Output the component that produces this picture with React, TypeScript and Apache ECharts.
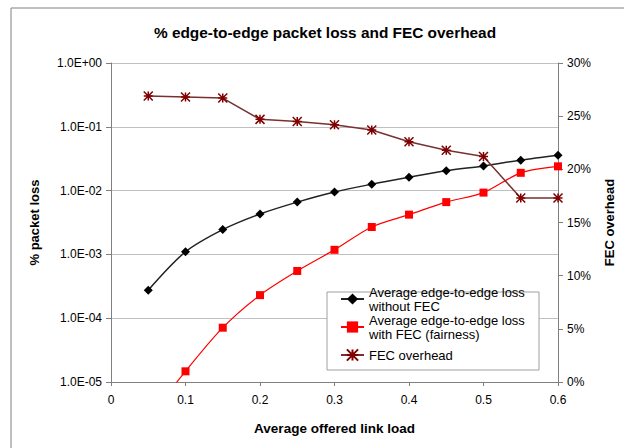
import React, { useEffect, useRef } from "react";
import * as echarts from "echarts";

const loads = [0.05, 0.1, 0.15, 0.2, 0.25, 0.3, 0.35, 0.4, 0.45, 0.5, 0.55, 0.6];
const lossNoFec = [2.75e-4, 1.1e-3, 2.45e-3, 4.3e-3, 6.6e-3, 9.5e-3, 0.0126, 0.0162, 0.0205, 0.0244, 0.030, 0.0357];
const lossFec = [2.7e-6, 1.47e-5, 7.1e-5, 2.3e-4, 5.5e-4, 1.18e-3, 2.69e-3, 4.2e-3, 6.6e-3, 9.3e-3, 0.019, 0.024];
const fecOverhead = [26.9, 26.8, 26.7, 24.7, 24.5, 24.2, 23.7, 22.6, 21.8, 21.2, 17.3, 17.3];

const nameA = "Average edge-to-edge loss\nwithout FEC";
const nameB = "Average edge-to-edge loss\nwith FEC (fairness)";
const nameC = "FEC overhead";

const FONT = "'Liberation Sans', Arial, Helvetica, sans-serif";

const pair = (ys: number[]) => loads.map((x, i) => [x, ys[i]]);

const fmtExp = (v: number) => {
  const e = Math.round(Math.log10(v));
  const s = e >= 0 ? "+" : "-";
  return `1.0E${s}${String(Math.abs(e)).padStart(2, "0")}`;
};

export default function App() {
  const ref = useRef<HTMLDivElement>(null);
  useEffect(() => {
    if (!ref.current) return;
    const chart = echarts.init(ref.current, undefined, { renderer: "svg" });
    const legendText = (twoLine: boolean) => ({
      fontFamily: FONT,
      fontSize: 13,
      lineHeight: 14,
      color: "#000",
      padding: twoLine ? [14, 0, 0, 0] : 0,
    });
    const legendBase = {
      orient: "vertical",
      left: 340,
      padding: 0,
      itemWidth: 23,
      itemHeight: 14,
      selectedMode: false,
    };
    chart.setOption({
      animation: false,
      backgroundColor: "#fff",
      title: {
        text: "% edge-to-edge packet loss and FEC overhead",
        left: 325,
        top: 25,
        textAlign: "center",
        padding: 0,
        textStyle: { fontFamily: FONT, fontSize: 15.4, fontWeight: "bold", color: "#000" },
      },
      graphic: [
        {
          type: "rect",
          z: 0,
          shape: { x: 11, y: 8, width: 700, height: 600 },
          style: { fill: "none", stroke: "#808080", lineWidth: 1 },
        },
        {
          type: "rect",
          z: 3,
          shape: { x: 327, y: 292, width: 212, height: 78 },
          style: { fill: "#fff", stroke: "#a0a0a0", lineWidth: 1 },
        },
      ],
      legend: [
        { ...legendBase, top: 278, data: [nameA], textStyle: legendText(true) },
        { ...legendBase, top: 306, data: [nameB], textStyle: legendText(true) },
        { ...legendBase, top: 348, data: [nameC], textStyle: legendText(false) },
      ],
      grid: { left: 111, right: 63, top: 63, bottom: 66, containLabel: false },
      xAxis: {
        type: "value",
        min: 0,
        max: 0.6,
        interval: 0.1,
        name: "Average offered link load",
        nameLocation: "middle",
        nameGap: 39,
        nameTextStyle: { fontFamily: FONT, fontSize: 13.5, fontWeight: "bold", color: "#000" },
        axisLine: { lineStyle: { color: "#808080" } },
        axisTick: { show: true, length: 4, lineStyle: { color: "#808080" } },
        axisLabel: { margin: 12, fontFamily: FONT, fontSize: 12, color: "#000" },
        splitLine: { show: false },
      },
      yAxis: [
        {
          type: "log",
          logBase: 10,
          min: 1e-5,
          max: 1,
          name: "% packet loss",
          nameLocation: "middle",
          nameGap: 70,
          nameTextStyle: { fontFamily: FONT, fontSize: 13, fontWeight: "bold", color: "#000" },
          axisLine: { show: true, lineStyle: { color: "#808080" } },
          axisTick: { show: true, length: 5, lineStyle: { color: "#808080" } },
          axisLabel: { margin: 9, fontFamily: FONT, fontSize: 12, color: "#000", formatter: fmtExp },
          splitLine: { show: true, lineStyle: { color: "#c0c0c0", width: 1 } },
          minorTick: { show: false },
        },
        {
          type: "value",
          min: 0,
          max: 30,
          interval: 5,
          position: "right",
          name: "FEC overhead",
          nameLocation: "middle",
          nameGap: 45,
          nameRotate: 90,
          nameTextStyle: { fontFamily: FONT, fontSize: 13, fontWeight: "bold", color: "#000" },
          axisLine: { show: true, lineStyle: { color: "#808080" } },
          axisTick: { show: true, length: 5, lineStyle: { color: "#808080" } },
          axisLabel: { margin: 9, fontFamily: FONT, fontSize: 12, color: "#000", formatter: (v: number) => `${v}%` },
          splitLine: { show: false },
        },
      ],
      series: [
        {
          name: nameA,
          type: "line",
          yAxisIndex: 0,
          data: pair(lossNoFec),
          smooth: 0.3,
          color: "#000",
          symbol: "diamond",
          symbolSize: 9,
          lineStyle: { color: "#222", width: 1.5 },
          itemStyle: { color: "#000" },
          z: 5,
        },
        {
          name: nameB,
          type: "line",
          yAxisIndex: 0,
          data: pair(lossFec),
          smooth: 0.3,
          color: "#ff0000",
          symbol: "rect",
          symbolSize: 8,
          lineStyle: { color: "#ff0000", width: 1.2 },
          itemStyle: { color: "#ff0000" },
          clip: true,
          z: 5,
        },
        {
          name: nameC,
          type: "line",
          yAxisIndex: 1,
          data: pair(fecOverhead),
          color: "#800000",
          symbol: "path://M0,0L10,10M10,0L0,10M5,0L5,10M0,5L10,5",
          symbolSize: 9,
          lineStyle: { color: "#7a3030", width: 1.5 },
          itemStyle: { color: "#800000", borderColor: "#800000", borderWidth: 1.5 },
          z: 5,
        },
      ],
    });
    return () => chart.dispose();
  }, []);
  return (
    <div
      ref={ref}
      style={{ position: "fixed", left: 0, top: 0, width: 624, height: 448 }}
    />
  );
}
